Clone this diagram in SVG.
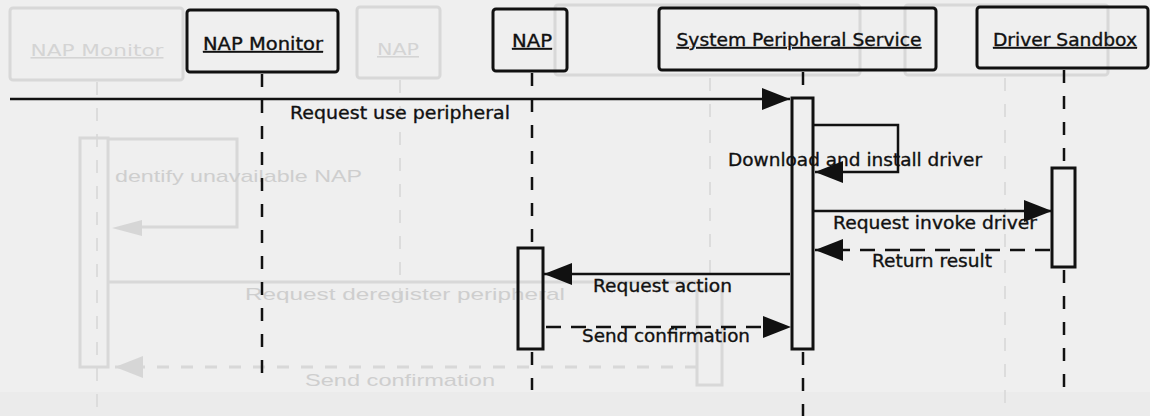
<svg xmlns="http://www.w3.org/2000/svg" width="1150" height="416" viewBox="0 0 1150 416">
<defs>
<marker id="ah" markerUnits="userSpaceOnUse" markerWidth="30" markerHeight="22" refX="28" refY="11" orient="auto">
<path d="M0,0 L28,11 L0,22 z" fill="#111"/>
</marker>
<marker id="gah" markerUnits="userSpaceOnUse" markerWidth="30" markerHeight="22" refX="28" refY="11" orient="auto">
<path d="M0,0 L28,11 L0,22 z" fill="#d6d6d6"/>
</marker>
<style>
.hdr{font-family:"DejaVu Sans",Verdana,sans-serif;font-size:17px;fill:#111;stroke:#111;stroke-width:0.35;text-anchor:middle;text-decoration:underline}
.msg{font-family:"DejaVu Sans",Verdana,sans-serif;font-size:18px;fill:#111;stroke:#111;stroke-width:0.35}
.box{fill:none;stroke:#111;stroke-width:3}
.life{stroke:#111;stroke-width:2.5;stroke-dasharray:13 13;fill:none}
.m{stroke:#111;stroke-width:2.5;fill:none}
.dash{stroke-dasharray:15 10}
.g{fill:none;stroke:#d8d8d8;stroke-width:3}
.gl{stroke:#dcdcdc;stroke-width:2;stroke-dasharray:13 13;fill:none}
.gt{font-family:"Liberation Sans",Arial,sans-serif;font-size:17px;fill:#cecece}
.gth{font-family:"DejaVu Sans",Verdana,sans-serif;font-size:16px;fill:#d4d4d4;text-anchor:middle;text-decoration:underline}
</style>
</defs>
<rect x="0" y="0" width="1150" height="416" fill="#efefef"/>
<rect x="0" y="392" width="1150" height="24" fill="#ebebeb"/>

<g id="ghost">
<rect class="g" x="10" y="8" width="173" height="72" rx="3"/>
<text class="gth" x="97" y="56" textLength="133" lengthAdjust="spacingAndGlyphs">NAP Monitor</text>
<rect class="g" x="357" y="7" width="83" height="71" rx="3"/>
<text class="gth" x="398" y="55" textLength="42" lengthAdjust="spacingAndGlyphs">NAP</text>
<rect class="g" x="555" y="5" width="305" height="70" rx="3"/>
<rect class="g" x="905" y="5" width="203" height="70" rx="3"/>
<line class="gl" x1="97" y1="82" x2="97" y2="416"/>
<line class="gl" x1="400" y1="80" x2="400" y2="300"/>
<line class="gl" x1="710" y1="78" x2="710" y2="290"/>
<line class="gl" x1="1005" y1="78" x2="1005" y2="416"/>
<rect class="g" x="80" y="138" width="28" height="229" fill="#efefef"/>
<path class="g" d="M108,139 H237 V227 H140"/>
<path d="M112,228 L142,220 L142,236 z" fill="#d6d6d6"/>
<text class="gt" x="115" y="182" textLength="247" lengthAdjust="spacingAndGlyphs">dentify unavailable NAP</text>
<line class="g" x1="108" y1="282" x2="697" y2="282"/>
<text class="gt" x="245" y="300" textLength="320" lengthAdjust="spacingAndGlyphs">Request deregister peripheral</text>
<line class="g" x1="697" y1="367" x2="115" y2="367" stroke-dasharray="12 12" marker-end="url(#gah)"/>
<text class="gt" x="305" y="386" textLength="190" lengthAdjust="spacingAndGlyphs">Send confirmation</text>
<rect class="g" x="697" y="290" width="25" height="95"/>
</g>

<g id="node-nap-monitor">
<rect class="box" x="187" y="10" width="151" height="62" rx="3"/>
<text class="hdr" x="263" y="50" textLength="120" lengthAdjust="spacingAndGlyphs">NAP Monitor</text>
</g>
<g id="node-nap">
<rect class="box" x="493" y="9" width="74" height="62" rx="3"/>
<text class="hdr" x="532" y="47" textLength="40" lengthAdjust="spacingAndGlyphs">NAP</text>
</g>
<g id="node-sps">
<rect class="box" x="659" y="8" width="277" height="62" rx="3"/>
<text class="hdr" x="799" y="46" textLength="245" lengthAdjust="spacingAndGlyphs">System Peripheral Service</text>
</g>
<g id="node-driver-sandbox">
<rect class="box" x="977" y="7" width="171" height="61" rx="3"/>
<text class="hdr" x="1065" y="46" textLength="144" lengthAdjust="spacingAndGlyphs">Driver Sandbox</text>
</g>

<g id="lifelines">
<line class="life" x1="262" y1="74" x2="262" y2="383"/>
<line class="life" x1="532" y1="73" x2="532" y2="248"/>
<line class="life" x1="532" y1="352" x2="532" y2="390"/>
<line class="life" x1="803" y1="72" x2="803" y2="98"/>
<line class="life" x1="803" y1="352" x2="803" y2="416"/>
<line class="life" x1="1064" y1="70" x2="1064" y2="168"/>
<line class="life" x1="1064" y1="270" x2="1064" y2="388"/>
</g>

<g id="activations">
<rect class="box" x="792" y="98" width="21" height="251"/>
<rect class="box" x="1052" y="168" width="23" height="99"/>
<rect class="box" x="518" y="248" width="25" height="101"/>
</g>

<g id="connectors">
<line class="m" x1="10" y1="99" x2="790" y2="99" marker-end="url(#ah)"/>
<text class="msg" x="290" y="119" textLength="220" lengthAdjust="spacingAndGlyphs">Request use peripheral</text>
<path class="m" d="M813,125 H898 V172 H815" marker-end="url(#ah)"/>
<text class="msg" x="728" y="166" textLength="254" lengthAdjust="spacingAndGlyphs">Download and install driver</text>
<line class="m" x1="813" y1="211" x2="1052" y2="211" marker-end="url(#ah)"/>
<text class="msg" x="833" y="229" textLength="204" lengthAdjust="spacingAndGlyphs">Request invoke driver</text>
<line class="m dash" x1="1050" y1="250" x2="815" y2="250" marker-end="url(#ah)"/>
<text class="msg" x="872" y="267" textLength="120" lengthAdjust="spacingAndGlyphs">Return result</text>
<line class="m" x1="790" y1="274" x2="544" y2="274" marker-end="url(#ah)"/>
<text class="msg" x="593" y="292" textLength="139" lengthAdjust="spacingAndGlyphs">Request action</text>
<line class="m dash" x1="546" y1="327" x2="791" y2="327" marker-end="url(#ah)"/>
<text class="msg" x="582" y="342" textLength="168" lengthAdjust="spacingAndGlyphs">Send confirmation</text>
</g>
</svg>
